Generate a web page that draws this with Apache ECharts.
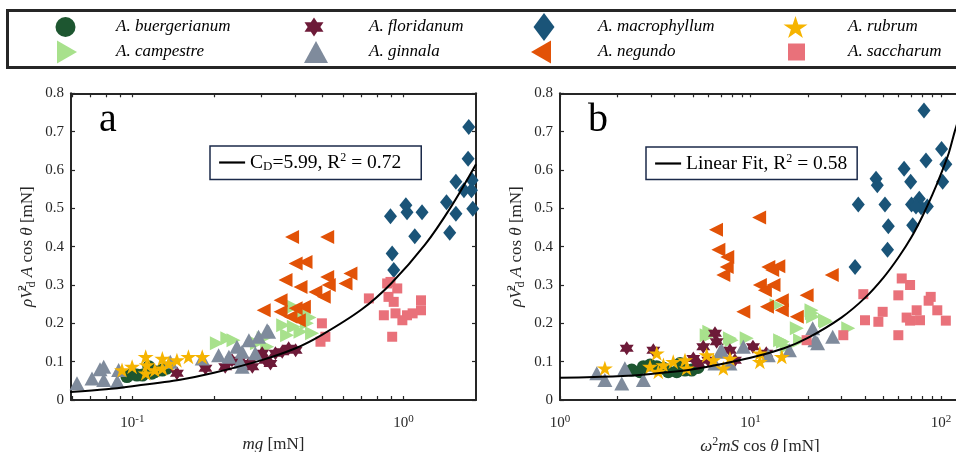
<!DOCTYPE html>
<html><head><meta charset="utf-8">
<script src="https://cdn.jsdelivr.net/npm/echarts@6/dist/echarts.min.js"></script>
<style>html,body{margin:0;padding:0;background:#fff}#c{width:956px;height:452px}</style>
</head><body><div id="c"></div>
<script>
// ---------------- data ----------------
const species = ['A. buergerianum','A. campestre','A. floridanum','A. ginnala','A. macrophyllum','A. negundo','A. rubrum','A. saccharum'];

// panel a : x = mg [mN], y = rho Vd^2 A cos(theta) [mN]
const buergerianumA = [[0.0955,0.061],[0.100,0.068],[0.104,0.065],[0.109,0.065],[0.115,0.087],[0.118,0.070],[0.121,0.074],[0.129,0.078],[0.134,0.083]];
const campestreA = [[0.205,0.148],[0.224,0.161],[0.236,0.156],[0.288,0.148],[0.305,0.161],[0.314,0.139],[0.360,0.195],[0.372,0.169],[0.394,0.243],[0.394,0.191],[0.417,0.178],[0.429,0.226],[0.440,0.200],[0.450,0.215],[0.460,0.174]];
const floridanumA = [[0.146,0.070],[0.186,0.083],[0.220,0.087],[0.233,0.104],[0.247,0.100],[0.269,0.095],[0.277,0.087],[0.301,0.122],[0.309,0.104],[0.323,0.095],[0.337,0.122],[0.357,0.126],[0.377,0.135],[0.400,0.130]];
const ginnalaA = [[0.0625,0.044],[0.071,0.056],[0.0784,0.052],[0.076,0.080],[0.0784,0.087],[0.089,0.078],[0.088,0.048],[0.138,0.100],[0.181,0.108],[0.208,0.117],[0.227,0.113],[0.243,0.139],[0.254,0.126],[0.254,0.087],[0.250,0.100],[0.269,0.156],[0.292,0.165],[0.318,0.178],[0.284,0.122],[0.314,0.182]];
const macrophyllumA = [[1.74,0.712],[1.73,0.629],[1.56,0.569],[1.67,0.547],[1.79,0.573],[1.78,0.547],[1.44,0.516],[1.56,0.486],[1.80,0.499],[1.48,0.436],[1.02,0.508],[1.03,0.490],[1.17,0.490],[0.895,0.479],[1.10,0.427],[0.908,0.382],[0.92,0.339]];
const negundoA = [[0.388,0.425],[0.523,0.425],[0.400,0.356],[0.435,0.360],[0.367,0.313],[0.417,0.295],[0.473,0.282],[0.523,0.321],[0.530,0.300],[0.508,0.269],[0.637,0.330],[0.611,0.304],[0.352,0.260],[0.305,0.234],[0.352,0.230],[0.400,0.239],[0.429,0.243],[0.383,0.217],[0.411,0.208]];
const rubrumA = [[0.0916,0.078],[0.0998,0.087],[0.112,0.113],[0.113,0.091],[0.112,0.070],[0.121,0.078],[0.129,0.108],[0.129,0.083],[0.136,0.095],[0.146,0.104],[0.161,0.113],[0.181,0.113]];
const saccharumA = [[0.745,0.265],[0.895,0.308],[0.948,0.291],[0.880,0.269],[0.920,0.256],[0.846,0.221],[0.934,0.226],[0.990,0.208],[1.03,0.221],[1.08,0.226],[1.16,0.234],[1.16,0.260],[0.908,0.165],[0.500,0.200],[0.515,0.165],[0.494,0.152],[0.870,0.304]];
const fitA = [[0.059,0.021],[0.08,0.028],[0.1,0.036],[0.15,0.053],[0.2,0.071],[0.3,0.104],[0.4,0.135],[0.5,0.170],[0.7,0.236],[0.9,0.304],[1.2,0.405],[1.5,0.505],[1.85,0.615]];

// panel b : x = omega^2 m S cos(theta) [mN]
const buergerianumB = [[2.38,0.078],[2.63,0.074],[2.74,0.087],[2.97,0.091],[3.22,0.087],[3.49,0.083],[3.70,0.074],[4.10,0.074],[4.27,0.095],[4.53,0.078],[4.91,0.078],[5.30,0.085]];
const campestreB = [[5.89,0.169],[6.08,0.178],[6.13,0.169],[7.80,0.161],[7.96,0.156],[9.55,0.161],[13.7,0.247],[14.3,0.156],[14.8,0.152],[15.5,0.139],[17.5,0.187],[18.2,0.156],[20.9,0.234],[21.0,0.226],[21.3,0.217],[24.6,0.208],[24.9,0.204],[32.6,0.187]];
const floridanumB = [[2.24,0.135],[3.09,0.130],[5.01,0.108],[5.32,0.095],[5.65,0.139],[6.00,0.104],[6.51,0.174],[6.64,0.152],[7.80,0.130],[8.28,0.104],[10.3,0.139],[12.1,0.122]];
const ginnalaB = [[1.56,0.070],[1.72,0.052],[2.11,0.043],[2.19,0.083],[2.74,0.052],[6.50,0.095],[6.92,0.126],[7.05,0.130],[7.80,0.095],[9.17,0.139],[12.4,0.117],[16.0,0.130],[21.2,0.187],[21.8,0.156],[22.5,0.148],[27.0,0.165]];
const macrophyllumB = [[81.4,0.755],[100.7,0.655],[83.4,0.625],[106,0.615],[64.0,0.603],[102,0.569],[45.6,0.577],[46.3,0.560],[69.3,0.569],[36.8,0.510],[50.8,0.510],[70.0,0.510],[76.9,0.525],[78.6,0.503],[84.8,0.505],[73.9,0.505],[71.0,0.456],[52.9,0.453],[52.4,0.392],[35.4,0.347]];
const negundoB = [[11.1,0.476],[6.59,0.444],[6.78,0.392],[7.55,0.373],[7.50,0.347],[7.20,0.326],[12.4,0.347],[14.0,0.349],[13.0,0.339],[26.7,0.326],[11.2,0.300],[13.2,0.300],[11.9,0.286],[19.7,0.273],[12.2,0.243],[14.6,0.260],[14.6,0.234],[9.17,0.230],[17.5,0.217]];
const rubrumB = [[1.72,0.083],[2.97,0.087],[3.22,0.122],[3.28,0.074],[3.49,0.091],[3.93,0.100],[4.53,0.104],[4.62,0.083],[5.89,0.117],[6.38,0.104],[7.20,0.083],[7.80,0.108],[11.2,0.122],[11.2,0.100],[14.6,0.113]];
const saccharumB = [[62.2,0.317],[68.8,0.300],[39.1,0.276],[59.7,0.273],[88.3,0.269],[86.1,0.259],[95.6,0.234],[49.4,0.230],[74.5,0.234],[66.0,0.215],[77.6,0.208],[39.9,0.208],[46.9,0.204],[106,0.207],[68.8,0.207],[59.7,0.169],[30.7,0.169],[19.7,0.156]];
const fitB = [[1,0.058],[2,0.062],[3,0.068],[5,0.080],[10,0.110],[15,0.135],[20,0.162],[30,0.215],[40,0.267],[50,0.320],[60,0.373],[70,0.425],[80,0.480],[90,0.535],[100,0.590],[110,0.645],[118,0.700],[126,0.745]];

const fitNames = ['CD=5.99, R2 = 0.72', 'Linear Fit, R2 = 0.58'];
const fitLabels = ['{n|C}{sb|D}{n|=5.99, R}{sp|2}{n| = 0.72}', '{n|Linear Fit, R}{sp|2}{n| = 0.58}'];

const xTicksA = [0.06,0.07,0.08,0.09,0.1,0.2,0.3,0.4,0.5,0.6,0.7,0.8,0.9,1];
const xLabelsA = [0.1, 1];
const xTicksB = [1,2,3,4,5,6,7,8,9,10,20,30,40,50,60,70,80,90,100];
const xLabelsB = [1, 10, 100];

const dataA = [buergerianumA, campestreA, floridanumA, ginnalaA, macrophyllumA, negundoA, rubrumA, saccharumA];
const dataB = [buergerianumB, campestreB, floridanumB, ginnalaB, macrophyllumB, negundoB, rubrumB, saccharumB];

// ---------------- styles ----------------
const SERIF = '"Liberation Serif","Times New Roman",serif';
const INK = '#262626';
const STAR5 = 'path://M50 0L61.2 34.5L97.6 34.5L68.2 55.9L79.4 90.5L50 69.1L20.6 90.5L31.8 55.9L2.4 34.5L38.8 34.5Z';
const STAR6 = 'path://M50 0L64.4 25L93.3 25L78.9 50L93.3 75L64.4 75L50 100L35.6 75L6.7 75L21.1 50L6.7 25L35.6 25Z';
const TRI_R = 'path://M0 0L100 50L0 100Z';
const TRI_L = 'path://M100 0L0 50L100 100Z';
const markStyle = [
  {symbol:'circle',   color:'#1d5630', size:13,      rot:0,   icon:'circle'},
  {symbol:'triangle', color:'#a8e18c', size:[14,14], rot:-90, icon:TRI_R},
  {symbol:STAR6,      color:'#6d1a38', size:14,      rot:0,   icon:STAR6},
  {symbol:'triangle', color:'#7f8b9c', size:[15,14], rot:0,   icon:'triangle'},
  {symbol:'diamond',  color:'#1a5478', size:[13,16], rot:0,   icon:'diamond'},
  {symbol:'triangle', color:'#e25207', size:[14,14], rot:90,  icon:TRI_L},
  {symbol:STAR5,      color:'#f6b400', size:[16,15], rot:0,   icon:STAR5},
  {symbol:'rect',     color:'#e9717a', size:10,      rot:0,   icon:'rect'}
];
// legend layout: [icon centre x, row centre y, icon w, icon h, text start x]
const legendLayout = [
  [65.5,27,20,20,116],[67,52,20,23,116],[314,27,19,19,369],[316,52,24,22,369],
  [544,27,21,28,598],[541,52,20,23,598],[795.5,27,24,22,848],[796.5,52,17,17,848]
];

const supRich = {
  n:{fontFamily:SERIF,fontSize:15,color:INK},
  sp:{fontFamily:SERIF,fontSize:11,color:INK,padding:[0,0,8,0]}
};
const nameRich = {
  i:{fontFamily:SERIF,fontSize:17,fontStyle:'italic',color:INK},
  n:{fontFamily:SERIF,fontSize:17,color:INK},
  sp:{fontFamily:SERIF,fontSize:12,color:INK,padding:[0,0,9,0]},
  sp0:{fontFamily:SERIF,fontSize:12,color:INK,padding:[0,0,9,0],width:1,align:'left'},
  sb:{fontFamily:SERIF,fontSize:12,color:INK,padding:[9,0,0,0]}
};
const yName = '{i|ρV}{sp0|2}{sb|d}{i| A}{n| cos}{i| θ}{n| [mN]}';
const xNameA = '{i|mg}{n| [mN]}';
const xNameB = '{i|ω}{sp|2}{i|mS}{n| cos}{i| θ}{n| [mN]}';

function powLabel(v){ const e = Math.round(Math.log10(v)); return '{n|10}{sp|' + (e < 0 ? '-' + (-e) : e) + '}'; }

function xAxis(grid, pos, min, max, ticks, labels, name){
  return {
    type:'log', logBase:10, gridIndex:grid, position:pos, min:min, max:max,
    axisLine:{show:true,onZero:false,lineStyle:{color:INK,width:2}},
    axisTick:{show:true,inside:true,length:4,customValues:ticks,lineStyle:{color:INK,width:1.2}},
    minorTick:{show:false}, splitLine:{show:false},
    axisLabel:{show:pos==='bottom',customValues:labels,formatter:powLabel,margin:14,rich:supRich},
    name: pos==='bottom' ? name : '', nameLocation:'middle', nameGap:35,
    nameTextStyle:{rich:nameRich}
  };
}
function yAxis(grid, pos, name){
  return {
    type:'value', gridIndex:grid, position:pos, min:0, max:0.8, interval:0.1,
    axisLine:{show:true,onZero:false,lineStyle:{color:INK,width:2}},
    axisTick:{show:true,inside:true,length:4,lineStyle:{color:INK,width:1.2}},
    splitLine:{show:false},
    axisLabel:{show:pos==='left',margin:7,color:INK,fontFamily:SERIF,fontSize:15},
    name: pos==='left' ? name : '', nameLocation:'middle', nameGap:33, nameRotate:90,
    nameTextStyle:{rich:nameRich}
  };
}

const series = [];
[dataA, dataB].forEach(function(set, p){
  set.forEach(function(d, k){
    const st = markStyle[k];
    series.push({
      type:'scatter', name:species[k], xAxisIndex:p*2, yAxisIndex:p*2, data:d,
      symbol:st.symbol, symbolSize:st.size, symbolRotate:st.rot,
      itemStyle:{color:st.color,opacity:1}, z:2+k, silent:true, emphasis:{disabled:true}
    });
  });
});
series.push({type:'line', name:fitNames[0], xAxisIndex:0, yAxisIndex:0, data:fitA, symbol:'none', smooth:0.3,
  lineStyle:{color:'#000',width:2}, itemStyle:{color:'#000'}, z:20, silent:true});
series.push({type:'line', name:fitNames[1], xAxisIndex:2, yAxisIndex:2, data:fitB, symbol:'none', smooth:0.3,
  lineStyle:{color:'#000',width:2}, itemStyle:{color:'#000'}, z:20, silent:true});

const legends = species.map(function(s, k){
  const L = legendLayout[k];
  return {
    data:[{name:s, icon:markStyle[k].icon}], left:L[0]-L[2]/2, top:L[1]-L[3]/2, padding:0, itemWidth:L[2], itemHeight:L[3],
    selectedMode:false, symbolKeepAspect:false, symbolRotate:0,
    textStyle:{fontFamily:SERIF,fontSize:17,fontStyle:'italic',color:'#000',padding:[0,0,0,L[4]-(L[0]+L[2]/2)-5]}
  };
});
const fitRich = {
  n:{fontFamily:SERIF,fontSize:19.5,color:'#000'},
  sp:{fontFamily:SERIF,fontSize:12,color:'#000',padding:[0,0,9,0]},
  sb:{fontFamily:SERIF,fontSize:13,color:'#000',padding:[9,0,0,0]}
};
[[210,146,20],[646,147,10]].forEach(function(pos, j){
  legends.push({
    data:[fitNames[j]], left:pos[0], top:pos[1], padding:[6,pos[2],6,8], itemWidth:26, itemHeight:14,
    selectedMode:false, borderColor:'#1b2a4a', borderWidth:1.5, backgroundColor:'#fff',
    itemStyle:{opacity:0}, lineStyle:{color:'#000',width:2.2},
    formatter:function(){ return fitLabels[j]; },
    textStyle:{rich:fitRich}
  });
});

const chart = echarts.init(document.getElementById('c'), null, {renderer:'canvas'});
chart.setOption({
  animation:false,
  backgroundColor:'#fff',
  title:[
    {text:'a', left:99, top:100, padding:0, textStyle:{fontFamily:SERIF,fontSize:40,fontWeight:'normal',color:'#000'}},
    {text:'b', left:588, top:100, padding:0, textStyle:{fontFamily:SERIF,fontSize:40,fontWeight:'normal',color:'#000'}}
  ],
  grid:[
    {left:71, top:93.3, width:405, height:306.7, containLabel:false, outerBoundsMode:'none'},
    {left:560, top:93.3, width:400, height:306.7, containLabel:false, outerBoundsMode:'none'}
  ],
  xAxis:[
    xAxis(0,'bottom',0.0594,1.85,xTicksA,xLabelsA,xNameA),
    xAxis(0,'top',0.0594,1.85,xTicksA,xLabelsA,''),
    xAxis(1,'bottom',1,125.8,xTicksB,xLabelsB,xNameB),
    xAxis(1,'top',1,125.8,xTicksB,xLabelsB,'')
  ],
  yAxis:[ yAxis(0,'left',yName), yAxis(0,'right',''), yAxis(1,'left',yName), yAxis(1,'right','') ],
  legend:legends,
  graphic:[{type:'rect', shape:{x:7.5,y:10.5,width:960,height:57}, style:{fill:'none',stroke:INK,lineWidth:3}, silent:true, z:100}],
  series:series
});
</script></body></html>
